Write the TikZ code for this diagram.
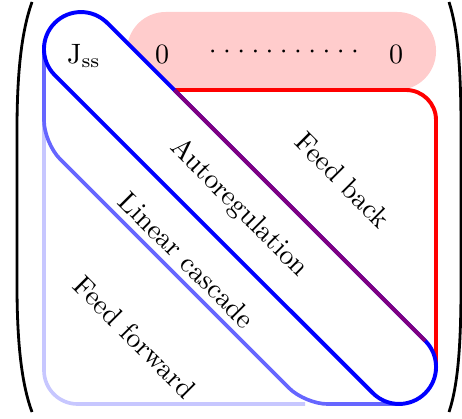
\documentclass[tikz,border=0pt]{standalone}
\begin{document}
\begin{tikzpicture}[x=0.3571pt, y=-0.3571pt,
  paren/.style={line width=1pt, black},
  pinkbox/.style={fill=red!20, rounded corners=13.8pt},
  ffline/.style={draw=blue!22, line width=1.3pt, rounded corners=12pt},
  lcline/.style={draw=blue!60, line width=1.3pt, rounded corners=8pt},
  fbline/.style={draw=red, line width=1.4pt, rounded corners=10.7pt},
  arband/.style={draw=blue, fill=white, line width=1.4pt},
  purpline/.style={draw=red!50!blue, line width=1.4pt},
  lbl/.style={font=\normalsize, rotate=-45, inner sep=0pt, anchor=center},
  ent/.style={inner sep=0pt, anchor=base},
  dotn/.style={inner sep=0pt, anchor=base}]
\useasboundingbox (0,0) rectangle (462,418);
% parentheses
\draw[paren] (32,2) .. controls (22,30) and (17,70) .. (17,130) -- (17,285) .. controls (17,345) and (22,385) .. (32,412);
\draw[paren] (449,2) .. controls (458,30) and (461,70) .. (461,130) -- (461,285) .. controls (461,345) and (458,385) .. (449,412);
% zero row
\path[pinkbox] (127,12) rectangle (436,90);
% feed forward
\draw[ffline] (44,49) -- (44,404) -- (305,404);
% linear cascade
\draw[lcline] (44,49) -- (44,143) -- (305,404) -- (399,404);
% feed back
\draw[fbline] (174.4,90) -- (436,90) -- (436,367);
% autoregulation band
\draw[arband] (107.2,22.8) -- (425.2,340.8) arc[start angle=45, end angle=-135, radius=13.21pt]
  -- (54.8,75.2) arc[start angle=225, end angle=45, radius=13.21pt] -- cycle;
\draw[purpline] (174.4,90) -- (425.2,340.8);
% entries
\node[ent] (jss) at (84,63) {$\mathrm{J}_{\mathrm{ss}}$};
\node[ent] (z1) at (162,63) {$0$};
\node[ent] (z2) at (396,63) {$0$};
\foreach \i in {0,...,10} {
  \node[dotn] (d\i) at ({212.7+14.23*\i},58) {$\cdot$};
}
% labels
\node[lbl] (ar) at (239,208) {Autoregulation};
\node[lbl] (fb) at (343,180) {Feed back};
\node[lbl] (lc) at (187,260) {Linear cascade};
\node[lbl] (ff) at (135,337) {Feed forward};
\end{tikzpicture}
\end{document}
